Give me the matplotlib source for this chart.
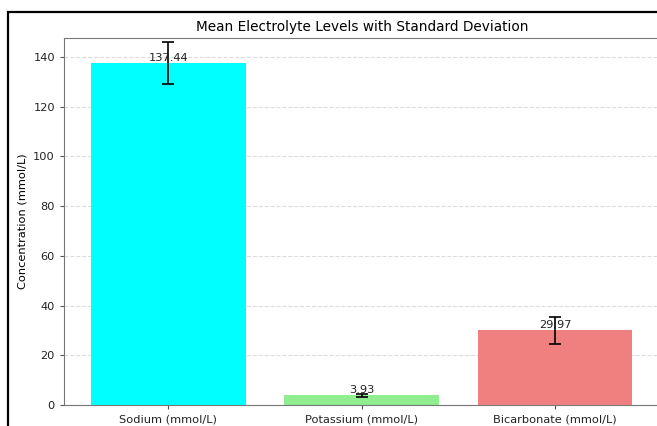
import numpy as np
import matplotlib.pyplot as plt
from matplotlib.patches import Rectangle

labels = ['Sodium (mmol/L)', 'Potassium (mmol/L)', 'Bicarbonate (mmol/L)']
means = [137.44, 3.93, 29.97]
stds = [8.4, 0.65, 5.45]
colors = ['cyan', 'lightgreen', 'lightcoral']

fig = plt.figure(figsize=(6.57, 4.26), dpi=100)
ax = fig.add_axes([64 / 657, 1 - 405 / 426, (659.5 - 64) / 657, (405 - 38) / 426])

x = np.arange(len(labels))
bars = ax.bar(x, means, yerr=stds, color=colors, width=0.8,
              capsize=4, error_kw={'elinewidth': 1.2, 'capthick': 1.2, 'ecolor': 'black'})

for b, m in zip(bars, means):
    ax.text(b.get_x() + b.get_width() / 2, m, f'{m:.2f}', ha='center', va='bottom',
            fontsize=8.2, color='#222222')

ax.set_xticks(x)
ax.set_xticklabels(labels, fontsize=8.2)
ax.tick_params(axis='y', labelsize=8.2)
ax.set_ylim(0, 147.6)
ax.set_xlim(-0.54, 2.54)
ax.set_ylabel('Concentration (mmol/L)', fontsize=8.2)
ax.set_title('Mean Electrolyte Levels with Standard Deviation', fontsize=9.8, pad=5)
ax.yaxis.grid(True, linestyle='--', alpha=0.5, color='#bbbbbb')
ax.set_axisbelow(True)
for s in ax.spines.values():
    s.set_color('#777777')
ax.tick_params(colors='#555555', labelcolor='#222222', length=3)

# screenshot frame
fig.patches.append(Rectangle((7.5 / 657, -0.1), 1.2, 1.1 - 11.5 / 426,
                             transform=fig.transFigure, fill=False,
                             edgecolor='black', linewidth=1.6))

fig.savefig('out.png', dpi=100)
